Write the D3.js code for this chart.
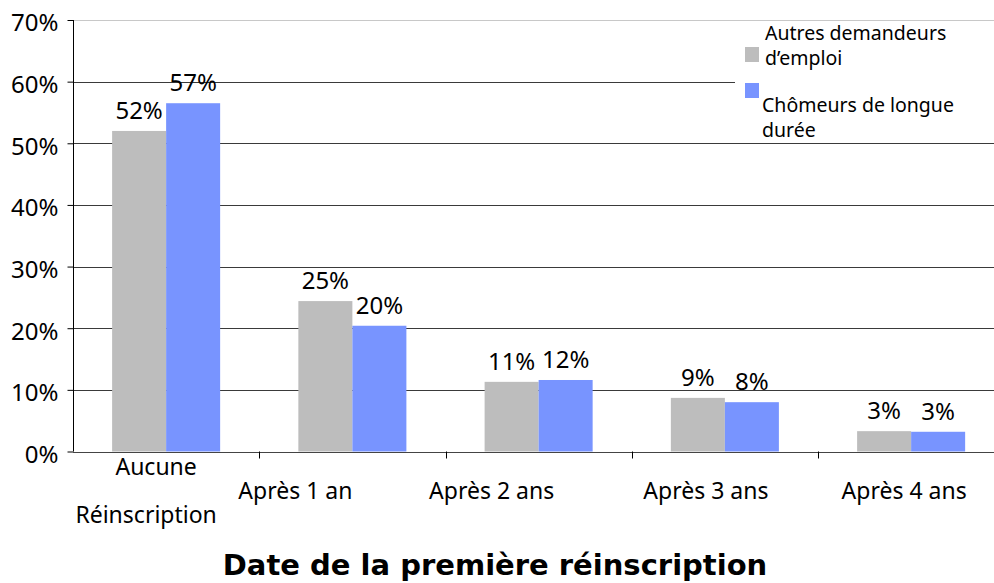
<!doctype html>
<html>
<head>
  <meta charset="utf-8">
  <title>Date de la première réinscription</title>
  <script src="https://d3js.org/d3.v7.min.js"></script>
  <style>
    body { margin: 0; background: #fff; }
    text { font-family: "Noto Sans", Tahoma, sans-serif; fill: #000; }
  </style>
</head>
<body>
  <div id="chart"></div>
  <script>
    // data
    var categories = ["Aucune Réinscription", "Après 1 an", "Après 2 ans", "Après 3 ans", "Après 4 ans"];
    var categoryLines = [["Aucune", "Réinscription"], ["Après 1 an"], ["Après 2 ans"], ["Après 3 ans"], ["Après 4 ans"]];
    var seriesNames = ["Autres demandeurs d’emploi", "Chômeurs de longue durée"];
    var autres = [52.0, 24.4, 11.3, 8.7, 3.3];
    var chomeurs = [56.5, 20.4, 11.6, 8.0, 3.2];
    var autresLabels = ["52%", "25%", "11%", "9%", "3%"];
    var chomeursLabels = ["57%", "20%", "12%", "8%", "3%"];
    var yTicks = [0, 10, 20, 30, 40, 50, 60, 70];

    var colors = ["#bdbdbd", "#7894ff"];

    // layout
    var W = 994, H = 583;
    var plotLeft = 73, plotTop = 20, plotBottom = 451.5;
    var bandW = 186.25;
    // the category labels in the original sit a little left of the band centres
    var labelShift = [[-10, -20], -57, -47, -19, -7];

    var svg = d3.select("#chart").append("svg")
      .attr("width", W)
      .attr("height", H);

    var x0 = d3.scaleBand()
      .domain(categories)
      .range([plotLeft, plotLeft + categories.length * bandW])
      .padding(0);

    var x1 = d3.scaleBand()
      .domain([0, 1])
      .range([0, x0.bandwidth()])
      .paddingInner(0)
      .paddingOuter(0.724);

    var y = d3.scaleLinear()
      .domain([0, 70])
      .range([plotBottom, plotTop]);

    // gridlines
    svg.append("g")
      .selectAll("line")
      .data(yTicks.filter(function (d) { return d > 0; }))
      .join("line")
      .attr("x1", plotLeft)
      .attr("x2", W)
      .attr("y1", function (d) { return Math.round(y(d)) + 0.5; })
      .attr("y2", function (d) { return Math.round(y(d)) + 0.5; })
      .attr("stroke", function (d) { return d === 70 ? "#c8c8c8" : "#3a3a3a"; })
      .attr("stroke-width", 1);

    // bars
    var rows = categories.map(function (c, i) {
      return { cat: c, vals: [autres[i], chomeurs[i]], labs: [autresLabels[i], chomeursLabels[i]] };
    });

    var groups = svg.append("g")
      .selectAll("g")
      .data(rows)
      .join("g")
      .attr("transform", function (d) { return "translate(" + x0(d.cat) + ",0)"; });

    groups.selectAll("rect")
      .data(function (d) { return d.vals.map(function (v, k) { return { k: k, v: v }; }); })
      .join("rect")
      .attr("x", function (d) { return x1(d.k); })
      .attr("width", x1.bandwidth())
      .attr("y", function (d) { return y(d.v); })
      .attr("height", function (d) { return plotBottom - y(d.v); })
      .attr("fill", function (d) { return colors[d.k]; });

    groups.selectAll("text")
      .data(function (d) { return d.vals.map(function (v, k) { return { k: k, v: v, lab: d.labs[k] }; }); })
      .join("text")
      .attr("x", function (d) { return x1(d.k) + x1.bandwidth() / 2; })
      .attr("y", function (d) { return y(d.v) - 12; })
      .attr("text-anchor", "middle")
      .style("font-size", "24px")
      .text(function (d) { return d.lab; });

    // legend (white box hides the gridlines behind it)
    var legend = svg.append("g");
    legend.append("rect")
      .attr("x", 735).attr("y", 22)
      .attr("width", W - 735).attr("height", 120)
      .attr("fill", "#fff");
    var legendText = [["Autres demandeurs", "d’emploi"], ["Chômeurs de longue", "durée"]];
    legendText.forEach(function (lines, k) {
      legend.append("rect")
        .attr("x", 745).attr("y", 47 + k * 36)
        .attr("width", 14).attr("height", 15)
        .attr("fill", colors[k]);
      lines.forEach(function (t, j) {
        legend.append("text")
          .attr("x", k === 0 ? 765 : 762)
          .attr("y", (k === 0 ? 39.5 : 111.5) + j * 25.5)
          .style("font-size", "19.5px")
          .text(t);
      });
    });

    // y axis
    var yAxis = svg.append("g")
      .attr("transform", "translate(" + (plotLeft + 0.5) + ",0)")
      .call(d3.axisLeft(y).tickValues(yTicks).tickSize(6).tickPadding(9)
        .tickFormat(function (d) { return d + "%"; }));
    yAxis.select(".domain").attr("stroke", "#000").attr("d", "M0," + plotTop + "V" + plotBottom);
    yAxis.selectAll(".tick line").attr("stroke", "#000");
    yAxis.selectAll(".tick text")
      .attr("dy", "0.45em")
      .style("font-size", "24px")
      .style("font-family", "'Noto Sans', Tahoma, sans-serif")
      .attr("fill", "#000");

    // x axis
    var xAxisG = svg.append("g");
    xAxisG.append("line")
      .attr("x1", plotLeft).attr("x2", W)
      .attr("y1", Math.round(plotBottom) + 0.5).attr("y2", Math.round(plotBottom) + 0.5)
      .attr("stroke", "#444");
    xAxisG.selectAll(".xtick")
      .data(categories.slice(1))
      .join("line")
      .attr("class", "xtick")
      .attr("x1", function (d) { return Math.round(x0(d)) + 0.5; })
      .attr("x2", function (d) { return Math.round(x0(d)) + 0.5; })
      .attr("y1", plotBottom)
      .attr("y2", plotBottom + 7)
      .attr("stroke", "#000");

    categories.forEach(function (c, i) {
      var cx = x0(c) + x0.bandwidth() / 2;
      var lines = categoryLines[i];
      lines.forEach(function (t, j) {
        var dx = Array.isArray(labelShift[i]) ? labelShift[i][j] : labelShift[i];
        var yy = lines.length > 1 ? 475 + j * 47.5 : 499;
        xAxisG.append("text")
          .attr("x", cx + dx)
          .attr("y", yy)
          .attr("text-anchor", "middle")
          .style("font-size", "23px")
          .text(t);
      });
    });

    // axis title
    svg.append("text")
      .attr("x", 495)
      .attr("y", 575)
      .attr("text-anchor", "middle")
      .style("font-family", "'DejaVu Sans', Verdana, sans-serif")
      .style("font-size", "29px")
      .style("font-weight", "bold")
      .text("Date de la première réinscription");
  </script>
</body>
</html>
